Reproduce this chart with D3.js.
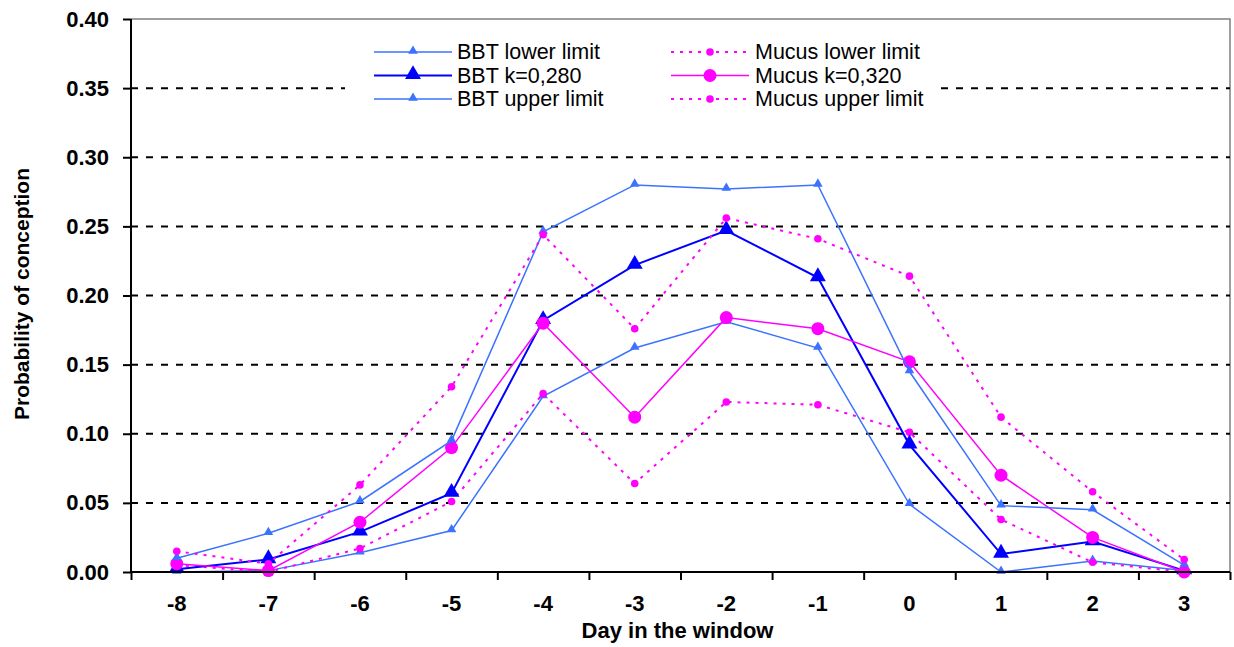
<!DOCTYPE html>
<html>
<head>
<meta charset="utf-8">
<script src="https://cdn.jsdelivr.net/npm/d3@7"></script>
<style>
  body { margin: 0; background: #fff; }
  svg { display: block; }
  text { font-family: "Liberation Sans", Arial, sans-serif; }
</style>
</head>
<body>
<svg id="chart"></svg>
<script>
// data
var days = [-8, -7, -6, -5, -4, -3, -2, -1, 0, 1, 2, 3];
var yTicks = [0, 0.05, 0.10, 0.15, 0.20, 0.25, 0.30, 0.35, 0.40];

var bbtLower   = [0.000, 0.001, 0.014, 0.030, 0.127, 0.162, 0.181, 0.162, 0.049, 0.000, 0.008, 0.001];
var bbtK       = [0.002, 0.009, 0.029, 0.057, 0.182, 0.222, 0.247, 0.213, 0.092, 0.013, 0.022, 0.001];
var bbtUpper   = [0.010, 0.028, 0.051, 0.095, 0.246, 0.280, 0.277, 0.280, 0.145, 0.048, 0.045, 0.005];
var mucusLower = [0.005, 0.000, 0.017, 0.051, 0.129, 0.064, 0.123, 0.121, 0.101, 0.038, 0.007, 0.000];
var mucusK     = [0.006, 0.001, 0.036, 0.090, 0.180, 0.112, 0.184, 0.176, 0.152, 0.070, 0.025, 0.000];
var mucusUpper = [0.015, 0.006, 0.063, 0.134, 0.244, 0.176, 0.256, 0.241, 0.214, 0.112, 0.058, 0.009];

var seriesNames = ["BBT lower limit", "Mucus lower limit", "BBT k=0,280", "Mucus k=0,320", "BBT upper limit", "Mucus upper limit"];

var width = 1234, height = 647;
var mLeft = 131, mRight = 1230, mTop = 19, mBottom = 572;

var light = "#3b73ff", dark = "#0000ff", pink = "#ff00ff";

// styles per series (same order as seriesNames)
var styles = [
  {values: bbtLower,   color: light, w: 1.5, dash: null,  mark: "tri", size: 40},
  {values: mucusLower, color: pink,  w: 2,   dash: "3,6", mark: "dot", size: 3.8},
  {values: bbtK,       color: dark,  w: 2,   dash: null,  mark: "tri", size: 110},
  {values: mucusK,     color: pink,  w: 1.5, dash: null,  mark: "dot", size: 6.5},
  {values: bbtUpper,   color: light, w: 1.5, dash: null,  mark: "tri", size: 40},
  {values: mucusUpper, color: pink,  w: 2,   dash: "3,6", mark: "dot", size: 3.8}
];

var svg = d3.select("#chart").attr("width", width).attr("height", height);

var x = d3.scaleBand().domain(days).range([mLeft, mRight]).paddingInner(0).paddingOuter(0);
var xb = d3.scaleLinear().domain([0, days.length]).range([mLeft, mRight]);
var y = d3.scaleLinear().domain([0, 0.4]).range([mBottom, mTop]);

function cx(i) { return x(days[i]) + x.bandwidth() / 2; }

// plot border (top and right, grey)
svg.append("path")
  .attr("d", "M" + mLeft + "," + y(0.4) + "H" + mRight + "V" + mBottom)
  .attr("fill", "none").attr("stroke", "#808080").attr("stroke-width", 1.5);

// dashed grid
svg.append("g").selectAll("line")
  .data(yTicks.filter(function(d) { return d > 0 && d < 0.4; }))
  .enter().append("line")
  .attr("x1", mLeft).attr("x2", mRight)
  .attr("y1", function(d) { return y(d); }).attr("y2", function(d) { return y(d); })
  .attr("stroke", "#000").attr("stroke-width", 2).attr("stroke-dasharray", "7,8");

// legend background hides grid
svg.append("rect").attr("x", 345).attr("y", 37).attr("width", 595).attr("height", 76).attr("fill", "#fff");

// series
var line = d3.line().x(function(d, i) { return cx(i); }).y(function(d) { return y(d); });
var tri = d3.symbol().type(d3.symbolTriangle);

styles.forEach(function(s) {
  var g = svg.append("g");
  g.append("path").datum(s.values)
    .attr("d", line).attr("fill", "none")
    .attr("stroke", s.color).attr("stroke-width", s.w)
    .attr("stroke-dasharray", s.dash);
  if (s.mark == "tri") {
    g.selectAll("path.m").data(s.values).enter().append("path")
      .attr("class", "m")
      .attr("d", tri.size(s.size))
      .attr("transform", function(d, i) { return "translate(" + cx(i) + "," + (y(d) - 1) + ")"; })
      .attr("fill", s.color);
  } else {
    g.selectAll("circle").data(s.values).enter().append("circle")
      .attr("cx", function(d, i) { return cx(i); })
      .attr("cy", function(d) { return y(d); })
      .attr("r", s.size).attr("fill", s.color);
  }
});

// y axis
var yAxis = svg.append("g").attr("transform", "translate(" + mLeft + ",0)")
  .call(d3.axisLeft(y).tickValues(yTicks).tickSize(8).tickPadding(14).tickFormat(d3.format(".2f")));
yAxis.select(".domain").attr("stroke", "#000").attr("stroke-width", 2).attr("d", "M0," + mTop + "V" + mBottom);
yAxis.selectAll(".tick line").attr("stroke-width", 2);
yAxis.selectAll("text").attr("font-size", 22).attr("font-weight", "bold").attr("fill", "#000")
  .attr("font-family", "Liberation Sans, Arial, sans-serif");

// x axis: ticks between categories, labels in the middle
var xTickAxis = svg.append("g").attr("transform", "translate(0," + mBottom + ")")
  .call(d3.axisBottom(xb).tickValues(d3.range(days.length + 1)).tickSize(8).tickFormat(""));
xTickAxis.select(".domain").attr("stroke", "#000").attr("stroke-width", 2).attr("d", "M" + mLeft + ",0H" + mRight);
xTickAxis.selectAll(".tick line").attr("stroke-width", 2);

var xAxis = svg.append("g").attr("transform", "translate(0," + mBottom + ")")
  .call(d3.axisBottom(x).tickSize(0).tickPadding(23));
xAxis.select(".domain").remove();
xAxis.selectAll("text").attr("font-size", 22).attr("font-weight", "bold").attr("fill", "#000")
  .attr("font-family", "Liberation Sans, Arial, sans-serif");

// axis titles
svg.append("text").attr("x", (mLeft + mRight) / 2 - 3).attr("y", 638)
  .attr("text-anchor", "middle").attr("font-size", 22).attr("font-weight", "bold")
  .text("Day in the window");
svg.append("text").attr("transform", "translate(29,294) rotate(-90)")
  .attr("text-anchor", "middle").attr("font-size", 21).attr("font-weight", "bold")
  .text("Probability of conception");

// legend, filled row by row in two columns
var legend = svg.append("g");
seriesNames.forEach(function(name, k) {
  var s = styles[k];
  var col = k % 2, row = Math.floor(k / 2);
  var lx = col == 0 ? 374 : 671;
  var ly = 52 + row * 23.5;
  var g = legend.append("g").attr("transform", "translate(" + lx + "," + ly + ")");
  g.append("line").attr("x1", 0).attr("x2", 78).attr("y1", 0).attr("y2", 0)
    .attr("stroke", s.color).attr("stroke-width", s.w).attr("stroke-dasharray", s.dash);
  if (s.mark == "tri") {
    g.append("path").attr("d", tri.size(s.size)).attr("transform", "translate(39,-1)").attr("fill", s.color);
  } else {
    g.append("circle").attr("cx", 39).attr("cy", 0).attr("r", s.size).attr("fill", s.color);
  }
  g.append("text").attr("x", col == 0 ? 83 : 84).attr("y", 7)
    .attr("font-size", 21.5).attr("fill", "#000").text(name);
});
</script>
</body>
</html>
